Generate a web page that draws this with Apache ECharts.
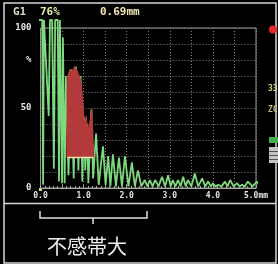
<!DOCTYPE html>
<html>
<head>
<meta charset="utf-8">
<script src="https://cdn.jsdelivr.net/npm/echarts@6/dist/echarts.min.js"></script>
<style>
html,body{margin:0;padding:0;background:#000;}
#main{width:278px;height:264px;}
</style>
</head>
<body>
<div id="main"></div>
<script>
// A-scan trace: depth in mm, amplitude in % of screen (105 = clipped above top)
var echo = [
  [-0.08, 19], [-0.08, 72], [-0.07, 105], [0.04, 105], [0.06, 2], [0.08, 105], [0.12, 105],
  [0.19, 45], [0.22, 105], [0.27, 105], [0.31, 12], [0.34, 105], [0.40, 105], [0.43, 4],
  [0.45, 105], [0.47, 105], [0.50, 3], [0.52, 94], [0.56, 3], [0.59, 70], [0.65, 8],
  [0.71, 74], [0.77, 6], [0.82, 76], [0.88, 11], [0.93, 70], [0.97, 4], [1.01, 44],
  [1.04, 11], [1.08, 40], [1.11, 3], [1.18, 49], [1.22, 6], [1.29, 34], [1.35, 2],
  [1.45, 26], [1.51, 2], [1.57, 20], [1.62, 1], [1.68, 21], [1.75, 1], [1.82, 19],
  [1.89, 1], [1.96, 20], [2.04, 1], [2.12, 16], [2.19, 1], [2.26, 11], [2.34, 1],
  [2.42, 5], [2.48, 1], [2.54, 5], [2.60, 1], [2.66, 5], [2.74, 1], [2.82, 7], [2.89, 1],
  [2.96, 8], [3.02, 1], [3.07, 5], [3.13, 1], [3.19, 5], [3.25, 1], [3.31, 7], [3.37, 1],
  [3.42, 5], [3.50, 1], [3.58, 9], [3.66, 1], [3.75, 6], [3.82, 1], [3.89, 4], [3.95, 1],
  [4.00, 3], [4.06, 1], [4.12, 2], [4.20, 1], [4.28, 4], [4.34, 1], [4.40, 5], [4.48, 1],
  [4.56, 3], [4.62, 1], [4.68, 2], [4.74, 1], [4.81, 4], [4.92, 1], [5.02, 4], [5.10, 1],
  [5.16, 3], [5.20, 0]
];
// gated part of the echo (red fill above gate level)
var gateEcho = [
  [0.61, 19], [0.62, 69], [0.68, 74], [0.73, 73], [0.80, 76], [0.87, 72], [0.93, 68],
  [0.98, 55], [1.01, 44], [1.03, 39], [1.06, 45], [1.10, 36], [1.15, 42], [1.19, 49],
  [1.22, 30], [1.24, 19]
];
var gateStart = 0.62, gateEnd = 1.23, gateLevel = 19;

var xLabels = ['0.0', '1.0', '2.0', '3.0', '4.0', '5.0mm'];
var yLabelValues = [0, 50, 80, 100];
var yLabelTexts = ['0', '50', '%', '100'];
var header = ['G1', '76%', '0.69mm'];
var caption = '不感帯大';

var mono = 'DejaVu Sans Mono';
var chart = echarts.init(document.getElementById('main'));

chart.setOption({
  backgroundColor: '#000',
  animation: false,
  grid: {
    left: 40.5, right: 22, top: 28, bottom: 76,
    show: true, borderColor: '#9c9c9c', borderWidth: 1
  },
  xAxis: {
    type: 'value', min: 0, max: 5, interval: 0.5,
    axisLine: {show: true, lineStyle: {color: '#a4aa9c', width: 1}},
    axisTick: {show: true, inside: true, length: 3, lineStyle: {color: '#a4aa9c'}},
    minorTick: {show: true, splitNumber: 5, length: 2, lineStyle: {color: '#a4aa9c'}},
    splitLine: {show: true, lineStyle: {color: '#808080', type: [1, 2]}},
    axisLabel: {
      color: '#e2e4ea', fontFamily: mono, fontSize: 8, fontWeight: 'bold', margin: 4,
      formatter: function (v) {
        var r = Math.round(v);
        return Math.abs(v - r) < 1e-6 ? xLabels[r] : '';
      }
    }
  },
  yAxis: {
    type: 'value', min: 0, max: 100, interval: 10,
    axisLine: {show: false},
    axisTick: {show: false},
    splitLine: {show: true, lineStyle: {color: '#808080', type: [1, 2]}},
    axisLabel: {
      color: '#e6e6e6', fontFamily: mono, fontSize: 9, fontWeight: 'bold', margin: 9,
      formatter: function (v) {
        var i = yLabelValues.indexOf(v);
        return i < 0 ? '' : yLabelTexts[i];
      }
    }
  },
  series: [
    {
      name: 'echo', type: 'line', data: echo, clip: false, symbol: 'none',
      lineStyle: {color: '#7ed97e', width: 1.8}, z: 3
    },
    {
      name: 'gate echo', type: 'line', data: gateEcho, symbol: 'none',
      lineStyle: {color: '#b23a3a', width: 1},
      areaStyle: {color: '#b23a3a', opacity: 1, origin: gateLevel}, z: 4
    },
    {
      name: 'gate', type: 'line', data: [[gateStart, gateLevel], [gateEnd, gateLevel]],
      symbol: 'none', lineStyle: {color: '#eee6a8', width: 1.5}, z: 5
    }
  ],
  graphic: [
    // outer screen frame and divider
    {type: 'rect', shape: {x: 4, y: 3, width: 272, height: 260},
      style: {fill: 'none', stroke: '#d8d8d8', lineWidth: 1.5}},
    {type: 'line', shape: {x1: 4, y1: 203.5, x2: 276, y2: 203.5},
      style: {stroke: '#d8d8d8', lineWidth: 1.5}},
    // header readouts
    {type: 'text', x: 13, y: 12.5, style: {text: header[0], fill: '#dcdcc4',
      font: 'bold 11px "DejaVu Sans Mono"', verticalAlign: 'middle'}},
    {type: 'text', x: 40, y: 12.5, style: {text: header[1], fill: '#e2eea8',
      font: 'bold 11px "DejaVu Sans Mono"', verticalAlign: 'middle'}},
    {type: 'text', x: 100, y: 12.5, style: {text: header[2], fill: '#f0e6b0',
      font: 'bold 11px "DejaVu Sans Mono"', verticalAlign: 'middle'}},
    // right side status icons
    {type: 'circle', shape: {cx: 273, cy: 29.5, r: 4}, style: {fill: '#e82828'}},
    {type: 'text', x: 268, y: 88.5, style: {text: '33', fill: '#d8d890',
      font: 'bold 8px "DejaVu Sans Mono"', verticalAlign: 'middle'}},
    {type: 'text', x: 268, y: 110, style: {text: 'ZC', fill: '#c8c078',
      font: 'bold 8px "DejaVu Sans Mono"', verticalAlign: 'middle'}},
    {type: 'rect', shape: {x: 269, y: 137, width: 9, height: 6}, style: {fill: '#46b050'}},
    {type: 'rect', shape: {x: 269, y: 147, width: 9, height: 16}, style: {fill: '#c4c4c4'}},
    {type: 'line', shape: {x1: 269, y1: 151.5, x2: 278, y2: 151.5}, style: {stroke: '#555', lineWidth: 1}},
    {type: 'line', shape: {x1: 269, y1: 155.5, x2: 278, y2: 155.5}, style: {stroke: '#555', lineWidth: 1}},
    {type: 'line', shape: {x1: 269, y1: 159.5, x2: 278, y2: 159.5}, style: {stroke: '#555', lineWidth: 1}},
    // zero marker below the axis
    {type: 'rect', shape: {x: 39, y: 188, width: 3, height: 3}, style: {fill: '#e8e070'}},
    // dead zone bracket and caption
    {type: 'polyline', shape: {points: [[40, 211], [40, 218], [147, 218], [147, 211]]},
      style: {stroke: '#e0e0e0', lineWidth: 1.5, fill: null}},
    {type: 'line', shape: {x1: 93, y1: 218, x2: 93, y2: 224},
      style: {stroke: '#e0e0e0', lineWidth: 1.5}},
    {type: 'text', x: 87, y: 246, style: {text: caption, fill: '#ececec',
      font: '20px "Noto Sans CJK JP"', align: 'center', verticalAlign: 'middle'}}
  ]
});
</script>
</body>
</html>
